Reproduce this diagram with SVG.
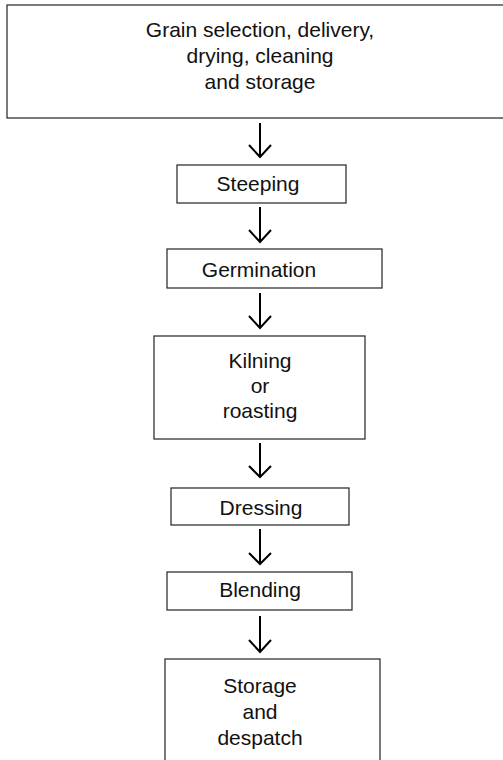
<svg xmlns="http://www.w3.org/2000/svg" width="503" height="760" viewBox="0 0 503 760">
<style>
.box{fill:#fff;stroke:#222;stroke-width:1.2}
.t{font-family:"Liberation Sans",Arial,sans-serif;font-size:21px;fill:#111;text-anchor:middle}
.c line,.c polyline{stroke:#000;stroke-width:2;fill:none}
</style>
<rect width="503" height="760" fill="#fff"/>
<g id="n-grain">
<rect class="box" x="7" y="5" width="510" height="113"/>
<text class="t" x="260" y="37">Grain selection, delivery,</text>
<text class="t" x="260" y="63">drying, cleaning</text>
<text class="t" x="260" y="89">and storage</text>
</g>
<g id="n-steeping">
<rect class="box" x="177" y="165" width="169" height="38"/>
<text class="t" x="258" y="191">Steeping</text>
</g>
<g id="n-germination">
<rect class="box" x="167" y="249" width="215" height="39"/>
<text class="t" x="259" y="277">Germination</text>
</g>
<g id="n-kilning">
<rect class="box" x="154" y="336" width="211" height="103"/>
<text class="t" x="260" y="368">Kilning</text>
<text class="t" x="260" y="393">or</text>
<text class="t" x="260" y="418">roasting</text>
</g>
<g id="n-dressing">
<rect class="box" x="171" y="488" width="178" height="37"/>
<text class="t" x="261" y="515">Dressing</text>
</g>
<g id="n-blending">
<rect class="box" x="167" y="572" width="185" height="38"/>
<text class="t" x="260" y="597">Blending</text>
</g>
<g id="n-storage">
<rect class="box" x="165" y="659" width="215" height="130"/>
<text class="t" x="260" y="693">Storage</text>
<text class="t" x="260" y="719">and</text>
<text class="t" x="260" y="745">despatch</text>
</g>
<g id="connectors" class="c">
<line x1="260" y1="123" x2="260" y2="156"/><polyline points="249,145 260,157 271,145"/>
<line x1="260" y1="207" x2="260" y2="241"/><polyline points="249,230 260,242 271,230"/>
<line x1="260" y1="293" x2="260" y2="327"/><polyline points="249,316 260,328 271,316"/>
<line x1="260" y1="443" x2="260" y2="476"/><polyline points="249,466 260,477 271,466"/>
<line x1="260" y1="529" x2="260" y2="563"/><polyline points="249,553 260,564 271,553"/>
<line x1="260" y1="616" x2="260" y2="651"/><polyline points="249,640 260,652 271,640"/>
</g>
</svg>
